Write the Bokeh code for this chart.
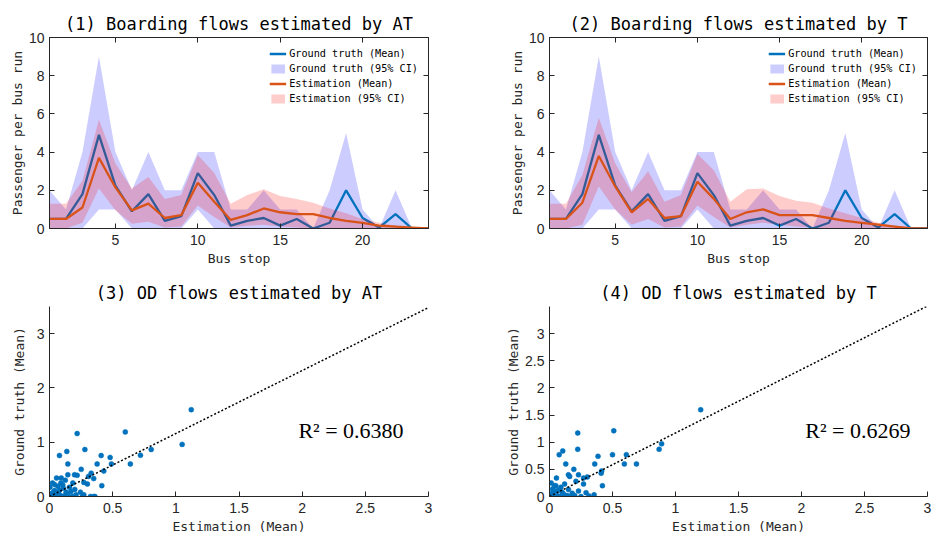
from bokeh.plotting import figure
from bokeh.layouts import column, row
from bokeh.models import LinearAxis, FixedTicker, Range1d, Legend, LegendItem, Label
from bokeh.embed import file_html
from bokeh.resources import INLINE

# ---------------- data ----------------
stops = list(range(1, 25))

gt_mean = [0.5, 0.5, 1.8, 4.9, 2.25, 0.9, 1.8, 0.4, 0.65, 2.9, 1.75, 0.15,
           0.4, 0.55, 0.15, 0.5, 0.0, 0.3, 2.0, 0.55, 0.05, 0.75, 0.0, 0.0]
gt_upper = [2.0, 1.0, 4.0, 9.0, 4.0, 2.0, 4.0, 2.0, 2.0, 4.0, 4.0, 1.0,
            1.0, 2.0, 1.0, 1.0, 0.0, 2.0, 5.0, 1.0, 0.0, 2.0, 0.0, 0.0]
gt_lower = [0.0, 0.0, 0.0, 1.0, 1.0, 0.0, 0.0, 0.0, 0.0, 1.0, 0.0, 0.0,
            0.0, 0.0, 0.0, 0.0, 0.0, 0.0, 0.0, 0.0, 0.0, 0.0, 0.0, 0.0]

at_mean = [0.5, 0.5, 1.1, 3.7, 2.15, 0.95, 1.3, 0.55, 0.7, 2.4, 1.4, 0.45,
           0.7, 1.05, 0.85, 0.75, 0.75, 0.55, 0.4, 0.3, 0.15, 0.1, 0.05, 0.0]
at_upper = [1.3, 1.3, 2.5, 5.7, 3.4, 2.1, 2.7, 1.55, 1.75, 3.85, 2.9, 1.3,
            1.75, 2.05, 1.7, 1.55, 1.35, 1.05, 0.8, 0.5, 0.3, 0.15, 0.07, 0.03]
at_lower = [0.0, 0.0, 0.3, 2.1, 0.95, 0.25, 0.35, 0.05, 0.1, 1.2, 0.6, 0.05,
            0.15, 0.2, 0.1, 0.05, 0.0, 0.0, 0.0, 0.0, 0.0, 0.0, 0.0, 0.0]

t_mean = [0.5, 0.5, 1.35, 3.8, 2.2, 0.85, 1.55, 0.55, 0.65, 2.45, 1.55, 0.5,
          0.85, 1.0, 0.7, 0.7, 0.7, 0.55, 0.4, 0.3, 0.2, 0.1, 0.0, 0.0]
t_upper = [1.3, 1.3, 2.8, 5.8, 3.4, 1.9, 3.0, 1.4, 1.75, 3.9, 3.05, 1.4,
           2.05, 2.1, 1.7, 1.45, 1.35, 1.05, 0.8, 0.55, 0.3, 0.15, 0.07, 0.03]
t_lower = [0.0, 0.0, 0.2, 2.2, 1.0, 0.2, 0.5, 0.05, 0.1, 1.2, 0.6, 0.05,
           0.2, 0.3, 0.2, 0.1, 0.05, 0.0, 0.0, 0.0, 0.0, 0.0, 0.0, 0.0]

od_at_est = [1.122, 1.05, 0.805, 0.72, 0.64, 0.60, 0.219, 0.28, 0.079, 0.137,
             0.409, 0.48, 0.145, 0.377, 0.49, 0.251, 0.43, 0.33, 0.145, 0.198,
             0.219, 0.056, 0.093, 0.125, 0.309, 0.35, 0.024, 0.185, 0.272, 0.30,
             0.414, 0.003, 0.066, 0.105, 0.158, 0.04, 0.132, 0.17, 0.245, 0.272,
             0.324, 0.35, 0.36, 0.013, 0.079, 0.21, 0.0, 0.01, 0.02, 0.03,
             0.05, 0.06, 0.08, 0.10, 0.11, 0.12, 0.15, 0.18, 0.20, 0.04,
             0.09, 0.26, 0.07, 0.14]
od_at_gt = [1.60, 0.96, 0.866, 0.76, 0.60, 1.19, 1.16, 0.866, 0.755, 0.83,
            0.755, 0.72, 0.60, 0.60, 0.60, 0.50, 0.47, 0.43, 0.40, 0.40,
            0.39, 0.34, 0.34, 0.30, 0.37, 0.33, 0.25, 0.25, 0.26, 0.23,
            0.20, 0.17, 0.19, 0.21, 0.17, 0.11, 0.08, 0.09, 0.08, 0.03,
            0.0, 0.0, 0.0, 0.02, 0.03, 0.03, 0.0, 0.05, 0.0, 0.08,
            0.0, 0.05, 0.12, 0.0, 0.15, 0.02, 0.0, 0.0, 0.13, 0.22,
            0.25, 0.0, 0.06, 0.04]

od_t_est = [1.2, 0.89, 0.87, 0.69, 0.61, 0.594, 0.224, 0.51, 0.224, 0.105,
            0.077, 0.385, 0.50, 0.129, 0.359, 0.193, 0.414, 0.41, 0.15, 0.23,
            0.16, 0.30, 0.055, 0.27, 0.013, 0.21, 0.27, 0.42, 0.12, 0.05,
            0.024, 0.09, 0.23, 0.29, 0.314, 0.354, 0.2, 0.1, 0.0, 0.01,
            0.02, 0.03, 0.04, 0.06, 0.07, 0.08, 0.11, 0.13, 0.15, 0.17,
            0.18, 0.04, 0.25, 0.14]
od_t_gt = [1.6, 0.97, 0.87, 0.60, 0.77, 0.60, 1.17, 1.21, 0.87, 0.84,
           0.77, 0.74, 0.77, 0.60, 0.60, 0.50, 0.47, 0.43, 0.40, 0.40,
           0.37, 0.36, 0.34, 0.34, 0.25, 0.28, 0.23, 0.20, 0.23, 0.20,
           0.14, 0.17, 0.10, 0.07, 0.01, 0.03, 0.02, 0.08, 0.03, 0.0,
           0.06, 0.0, 0.1, 0.02, 0.12, 0.0, 0.05, 0.0, 0.13, 0.0,
           0.06, 0.2, 0.0, 0.02]

fit_x = [0.0, 3.0]
fit_slope_at = 1.16
fit_slope_t = 1.17
r2_at = "R\u00b2 = 0.6380"
r2_t = "R\u00b2 = 0.6269"

titles = ["(1) Boarding flows estimated by AT", "(2) Boarding flows estimated by T",
          "(3) OD flows estimated by AT", "(4) OD flows estimated by T"]

# ---------------- style helpers ----------------
AX = "#262626"
MONO = "DejaVu Sans Mono"
NUM = "Liberation Sans"
BLUE = "#0072BD"
ORANGE = "#D95319"


def style_axis(ax, labels=True):
    ax.major_tick_in = 5
    ax.major_tick_out = 0
    ax.minor_tick_line_color = None
    ax.axis_line_color = AX
    ax.major_tick_line_color = AX
    ax.major_label_text_color = AX
    ax.major_label_text_font = NUM
    ax.major_label_text_font_size = "14px" if labels else "0px"
    ax.major_label_standoff = 6 if labels else 0
    ax.axis_label_text_font = MONO
    ax.axis_label_text_font_size = "13px"
    ax.axis_label_text_font_style = "normal"
    ax.axis_label_text_color = AX


def make_fig(title, height, left, right):
    p = figure(width=468, height=height, output_backend="svg", toolbar_location=None,
               min_border_left=left, min_border_right=right,
               min_border_top=37, min_border_bottom=41)
    p.title.text = title
    p.title.text_font = MONO
    p.title.text_font_size = "17px"
    p.title.text_font_style = "normal"
    p.title.text_color = "black"
    p.title.align = "center"
    p.title.standoff = 8
    p.xgrid.visible = False
    p.ygrid.visible = False
    p.background_fill_color = "white"
    return p


def boarding(title, mean, upper, lower, left, right):
    p = make_fig(title, 269, left, right)
    p.x_range = Range1d(1, 24)
    p.y_range = Range1d(0, 10)
    xt = FixedTicker(ticks=[5, 10, 15, 20])
    yt = FixedTicker(ticks=[0, 2, 4, 6, 8, 10])
    p.xaxis.ticker = xt
    p.yaxis.ticker = yt
    p.xaxis.axis_label = "Bus stop"
    p.yaxis.axis_label = "Passenger per bus run"
    for a in p.xaxis + p.yaxis:
        style_axis(a)
    p.yaxis.major_label_standoff = 5
    p.yaxis.axis_label_standoff = 1
    p.xaxis.axis_label_standoff = 3
    top = LinearAxis(ticker=xt)
    rgt = LinearAxis(ticker=yt)
    style_axis(top, labels=False)
    style_axis(rgt, labels=False)
    p.add_layout(top, "above")
    p.add_layout(rgt, "right")
    p.outline_line_color = AX

    g_ci = p.varea(x=stops, y1=gt_lower, y2=gt_upper, fill_color="blue", fill_alpha=0.2)
    g_m = p.line(stops, gt_mean, line_color=BLUE, line_width=2.3)
    e_ci = p.varea(x=stops, y1=lower, y2=upper, fill_color="red", fill_alpha=0.2)
    e_m = p.line(stops, mean, line_color=ORANGE, line_width=2.3)

    leg = Legend(items=[LegendItem(label="Ground truth (Mean)", renderers=[g_m]),
                        LegendItem(label="Ground truth (95% CI)", renderers=[g_ci]),
                        LegendItem(label="Estimation (Mean)", renderers=[e_m]),
                        LegendItem(label="Estimation (95% CI)", renderers=[e_ci])],
                 location="top_right")
    leg.border_line_color = None
    leg.background_fill_alpha = 0
    leg.label_text_font = MONO
    leg.label_text_font_size = "10.2px"
    leg.label_text_color = "black"
    leg.glyph_width = 17
    leg.glyph_height = 11
    leg.label_height = 12
    leg.label_standoff = 3
    leg.spacing = 3
    leg.padding = 4
    leg.margin = 10
    p.add_layout(leg)
    return p


def od(title, est, gt, slope, r2, r2x, yticks, ylab_standoff, left, right):
    p = make_fig(title, 268, left, right)
    p.x_range = Range1d(0, 3)
    p.y_range = Range1d(0, 3.5)
    xt = [0, 0.5, 1, 1.5, 2, 2.5, 3]
    p.xaxis.ticker = FixedTicker(ticks=xt)
    p.yaxis.ticker = FixedTicker(ticks=yticks)
    p.xaxis.major_label_overrides = {t: f"{t:g}" for t in xt}
    p.yaxis.major_label_overrides = {t: f"{t:g}" for t in yticks}
    p.xaxis.axis_label = "Estimation (Mean)"
    p.yaxis.axis_label = "Ground truth (Mean)"
    for a in p.xaxis + p.yaxis:
        style_axis(a)
    p.yaxis.major_label_standoff = 5
    p.yaxis.axis_label_standoff = ylab_standoff
    p.xaxis.axis_label_standoff = 3
    p.outline_line_color = None
    p.scatter(est, gt, size=5, fill_color=BLUE, line_color=BLUE, line_width=0.5)
    p.line(fit_x, [slope * v for v in fit_x], line_color="black", line_width=1.5,
           line_dash="2 2")
    p.add_layout(Label(x=r2x, y=0.98, text=r2, text_font="Liberation Serif",
                       text_font_size="22px", text_color="black"))
    return p


p1 = boarding(titles[0], at_mean, at_upper, at_lower, 49, 40)
p2 = boarding(titles[1], t_mean, t_upper, t_lower, 81, 9)
p3 = od(titles[2], od_at_est, od_at_gt, fit_slope_at, r2_at, 1.97, [0, 1, 2, 3], 7, 49, 40)
p4 = od(titles[3], od_t_est, od_t_gt, fit_slope_t, r2_t, 2.03,
        [0, 0.5, 1, 1.5, 2, 2.5, 3], 1, 81, 9)

layout = column(row(p1, p2), row(p3, p4))
open("out.html", "w").write(file_html(layout, INLINE))
